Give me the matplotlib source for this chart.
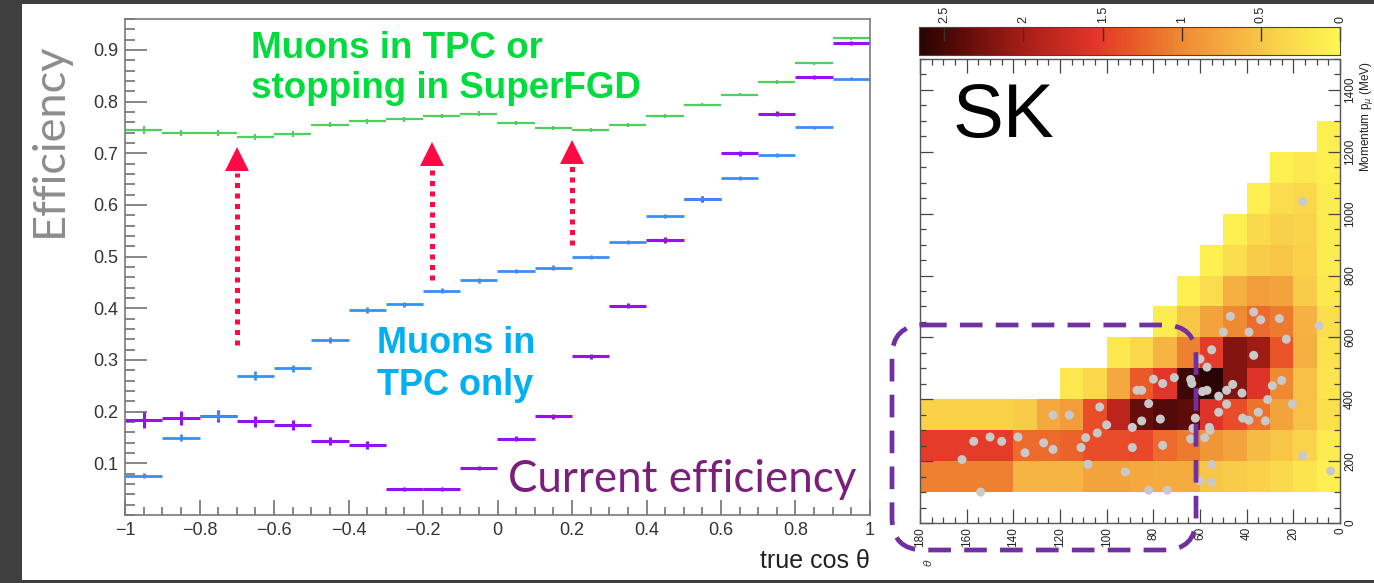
import numpy as np
import matplotlib
matplotlib.use("Agg")
import matplotlib.pyplot as plt
from matplotlib.colors import LinearSegmentedColormap
from matplotlib.patches import FancyBboxPatch, Rectangle
from matplotlib.ticker import MultipleLocator, FixedLocator, FuncFormatter

plt.rcParams['font.family'] = ['Liberation Sans', 'DejaVu Sans']

W, H = 1374, 583

# ---------------- efficiency vs true cos(theta), 20 bins ----------------
cos_edges = np.round(np.linspace(-1.0, 1.0, 21), 2)
eff_tpc_or_sfgd = [0.745, 0.740, 0.740, 0.732, 0.737, 0.755, 0.762, 0.766, 0.772, 0.777,
                   0.758, 0.749, 0.745, 0.754, 0.773, 0.794, 0.813, 0.838, 0.874, 0.923]
err_tpc_or_sfgd = [0.007, 0.006, 0.006, 0.006, 0.006, 0.005, 0.005, 0.005, 0.004, 0.004,
                   0.004, 0.004, 0.004, 0.004, 0.004, 0.003, 0.003, 0.003, 0.003, 0.003]
eff_tpc_only = [0.076, 0.150, 0.192, 0.270, 0.284, 0.339, 0.397, 0.408, 0.434, 0.454,
                0.473, 0.479, 0.499, 0.528, 0.578, 0.612, 0.652, 0.696, 0.750, 0.844]
err_tpc_only = [0.005, 0.007, 0.009, 0.008, 0.007, 0.006, 0.006, 0.005, 0.005, 0.004,
                0.004, 0.004, 0.004, 0.004, 0.004, 0.005, 0.004, 0.004, 0.003, 0.003]
eff_current = [0.184, 0.188, 0.192, 0.181, 0.174, 0.143, 0.136, 0.050, 0.051, 0.091,
               0.148, 0.191, 0.307, 0.405, 0.532, 0.612, 0.700, 0.777, 0.847, 0.914]
err_current = [0.016, 0.013, 0.012, 0.011, 0.010, 0.008, 0.008, 0.004, 0.004, 0.004,
               0.005, 0.005, 0.005, 0.005, 0.006, 0.006, 0.005, 0.005, 0.004, 0.004]

# gain arrows: x position, start and tip efficiency
arrow_x = [-0.70, -0.175, 0.20]
arrow_from = [0.330, 0.455, 0.523]
arrow_to = [0.714, 0.723, 0.727]

# ---------------- SK muon kinematics: theta (deg) x momentum (MeV) ----------------
theta_edges = np.arange(180, -1, -10)
p_edges = np.arange(0, 1501, 100)
nan = np.nan
sk_density = [
    [nan] * 18,
    [1.05, 1.05, 1.05, 1.05, 0.65, 0.65, 0.65, 0.80, 0.80, 0.75, 0.72, 0.72, 0.50, 0.45, 0.40, 0.33, 0.20, 0.08],
    [1.50, 1.50, 1.50, 1.50, 1.20, 1.20, 1.25, 1.40, 1.40, 1.42, 1.20, 1.10, 0.90, 0.80, 0.60, 0.50, 0.38, 0.12],
    [0.40, 0.40, 0.40, 0.40, 0.45, 0.75, 0.85, 1.40, 1.85, 2.35, 2.45, 2.40, 1.60, 1.40, 1.15, 0.80, 0.55, 0.25],
    [nan] * 6 + [0.15, 0.35, 0.75, 1.30, 1.55, 2.55, 2.66, 2.20, 1.60, 1.00, 0.55, 0.20],
    [nan] * 8 + [0.15, 0.35, 0.65, 1.05, 1.50, 2.20, 2.05, 1.35, 0.70, 0.22],
    [nan] * 10 + [0.12, 0.50, 0.80, 1.00, 1.20, 1.10, 0.68, 0.28],
    [nan] * 11 + [0.10, 0.30, 0.70, 0.85, 0.80, 0.45, 0.15],
    [nan] * 12 + [0.10, 0.30, 0.45, 0.50, 0.40, 0.12],
    [nan] * 13 + [0.08, 0.32, 0.42, 0.38, 0.12],
    [nan] * 14 + [0.08, 0.30, 0.35, 0.12],
    [nan] * 15 + [0.08, 0.15, 0.10],
    [nan] * 17 + [0.08],
    [nan] * 18,
    [nan] * 18,
]
density_max = 2.66

# observed events
event_theta = [47, 37, 34, 26, 9, 50, 39, 23, 55, 37, 60, 57, 80, 76, 71, 64, 63.5, 46, 25, 29,
               87, 85, 59, 57, 48.6, 42, 52, 31, 20.4, 82, 48.6, 103, 52, 35, 123, 116, 62, 77, 85, 41.7,
               39, 32, 100, 89, 63, 56, 55.7, 104, 109, 58, 64, 150, 138, 145, 157, 127, 111, 123, 89, 76,
               135, 162, 16, 108, 55, 92, 4, 60, 55, 154, 82, 74, 16]
event_p = [668, 682, 657, 661, 638, 617, 617, 594, 560, 542, 530, 504, 465, 451, 470, 464, 451, 448, 461, 444,
           429, 429, 425, 429, 429, 420, 410, 399, 384, 386, 384, 375, 358, 358, 349, 349, 339, 336, 330, 339,
           332, 330, 317, 309, 306, 309, 300, 291, 276, 276, 272, 278, 278, 264, 264, 259, 244, 238, 244, 251,
           227, 205, 217, 190, 189, 165, 168, 136, 132, 100, 106, 106, 1039]

# ---------------- colours ----------------
c_green, c_blue, c_purple = '#4fcf5e', '#3b8ff2', '#9512f0'
c_arrow = '#ff0a45'
sk_cmap = LinearSegmentedColormap.from_list('sk', [
    (0.0 / density_max, '#fff652'),
    (0.4 / density_max, '#f9d24a'),
    (0.7 / density_max, '#f5ae40'),
    (1.0 / density_max, '#ef8a32'),
    (1.3 / density_max, '#ea5a28'),
    (1.55 / density_max, '#e4352a'),
    (2.0 / density_max, '#a81e16'),
    (2.5 / density_max, '#4a0806'),
    (1.0, '#2a0404'),
])

fig = plt.figure(figsize=(W / 100, H / 100), dpi=100)
fig.patch.set_facecolor('#3f3f3f')
fig.add_artist(Rectangle((22 / W, 3 / H), 1.0, (580 - 4) / H, transform=fig.transFigure,
                         facecolor='white', edgecolor='none', zorder=-10))

# ---------------- left: efficiency ----------------
ax = fig.add_axes([125 / W, 1 - 515 / H, 745 / W, 496 / H])
centers = (cos_edges[:-1] + cos_edges[1:]) / 2
half = np.diff(cos_edges) / 2
for vals, errs, col, lw in [(eff_current, err_current, c_purple, 2.2),
                            (eff_tpc_only, err_tpc_only, c_blue, 2.0),
                            (eff_tpc_or_sfgd, err_tpc_or_sfgd, c_green, 1.6)]:
    ax.errorbar(centers, vals, xerr=half, yerr=errs, fmt='none', ecolor=col,
                elinewidth=lw, capsize=0)

head = 0.048
for x, y0, y1 in zip(arrow_x, arrow_from, arrow_to):
    ax.plot([x, x], [y0, y1 - head - 0.004], color=c_arrow, lw=3.6,
            ls=(0, (1, 1.1)), dash_capstyle='butt')
    ax.plot(x, y1 - head / 2, marker='^', ms=17.5, color=c_arrow, mew=0)

ax.set_xlim(-1, 1)
ax.set_ylim(0, 0.96)
ax.xaxis.set_major_locator(MultipleLocator(0.2))
ax.xaxis.set_minor_locator(MultipleLocator(0.05))
ax.yaxis.set_major_locator(FixedLocator(np.round(np.arange(0.1, 0.95, 0.1), 2)))
ax.yaxis.set_minor_locator(MultipleLocator(0.02))
ax.xaxis.set_major_formatter(FuncFormatter(lambda v, p: ('%g' % round(v, 2)).replace('-', '\u2212')))
ax.yaxis.set_major_formatter(FuncFormatter(lambda v, p: '%g' % round(v, 2)))
ax.tick_params(axis='both', which='both', direction='in', color='#666666', width=1.1,
               top=False, right=False, labelsize=13, labelcolor='#333333')
ax.tick_params(axis='y', which='major', length=16, pad=5)
ax.tick_params(axis='y', which='minor', length=7.5)
ax.tick_params(axis='x', which='major', length=11, pad=5)
ax.tick_params(axis='x', which='minor', length=6)
for s in ax.spines.values():
    s.set_color('#7a7a7a')
    s.set_linewidth(1.2)

# ---------------- right: SK heat map ----------------
hx = fig.add_axes([920 / W, 1 - 523 / H, 420 / W, 464 / H])
grid = np.ma.masked_invalid(np.array(sk_density, dtype=float))
hx.pcolormesh(theta_edges, p_edges, grid, cmap=sk_cmap, vmin=0, vmax=density_max)
hx.scatter(event_theta, event_p, s=42, color='#c9c9c9', edgecolors='none', zorder=3)
hx.set_xlim(180, 0)
hx.set_ylim(0, 1500)
hx.xaxis.set_major_locator(MultipleLocator(20))
hx.xaxis.set_minor_locator(MultipleLocator(5))
hx.yaxis.set_major_locator(MultipleLocator(200))
hx.yaxis.set_minor_locator(MultipleLocator(50))
hx.tick_params(axis='both', which='both', direction='in', top=True, right=True,
               color='#444444', width=0.9, labelsize=8.5, labelcolor='#222222')
hx.tick_params(axis='x', which='major', length=10, labelrotation=90, pad=3)
hx.tick_params(axis='x', which='minor', length=4.5)
hx.tick_params(axis='y', which='major', length=9, labelrotation=90, pad=3,
               labelleft=False, labelright=True)
hx.tick_params(axis='y', which='minor', length=4.5)
for lab in hx.get_yticklabels():
    lab.set_verticalalignment('center')
for s in hx.spines.values():
    s.set_color('#555555')
    s.set_linewidth(1.0)
hx.text(1.043, 0.995, r'Momentum p$_{\mu}$ (MeV)', transform=hx.transAxes, rotation=90,
        ha='left', va='top', fontsize=8.5, color='#222222')
hx.text(0.02, -0.085, r'$\theta$', transform=hx.transAxes, rotation=90,
        ha='center', va='center', fontsize=8, color='#444444')

# colour scale
cx = fig.add_axes([919 / W, 1 - 55 / H, 421 / W, 28 / H])
levels = np.linspace(0, density_max, 400)
cx.imshow(levels[None, :], extent=(0, density_max, 0, 1), aspect='auto',
          cmap=sk_cmap, vmin=0, vmax=density_max)
cx.set_xlim(density_max, 0)
cx.set_ylim(0, 1)
cx.set_yticks([])
cx.xaxis.set_major_locator(FixedLocator([0, 0.5, 1, 1.5, 2, 2.5]))
cx.xaxis.set_major_formatter(FuncFormatter(lambda v, p: '%g' % v))
cx.tick_params(axis='x', direction='in', top=True, bottom=False, labeltop=True,
               labelbottom=False, length=10, width=1.0, color='#333333',
               labelrotation=90, labelsize=9, pad=3, labelcolor='#222222')
for s in cx.spines.values():
    s.set_color('#444444')
    s.set_linewidth(0.8)

# ---------------- overlay: labels and highlight box (pixel coordinates) ----------------
ov = fig.add_axes([0, 0, 1, 1], zorder=5)
ov.set_xlim(0, W)
ov.set_ylim(H, 0)
ov.axis('off')
ov.patch.set_alpha(0)

bold = dict(fontweight='bold', ha='left', va='baseline')
ov.text(251, 58, 'Muons in TPC or', color='#00dc3c', fontsize=26.5, **bold)
ov.text(251, 98, 'stopping in SuperFGD', color='#00dc3c', fontsize=26.5, **bold)
ov.text(377, 353, 'Muons in', color='#00b0f0', fontsize=26, **bold)
ov.text(377, 395, 'TPC only', color='#00b0f0', fontsize=26, **bold)
ov.text(508, 492, 'Current efficiency', color='#7a1f7c', fontsize=31.6,
        family=['Lato', 'DejaVu Sans'], ha='left', va='baseline')
ov.text(62, 140, 'Efficiency', color='#8c8c8c', fontsize=32.5, rotation=90,
        rotation_mode='anchor', family=['Lato', 'DejaVu Sans'], fontweight='normal',
        ha='center', va='baseline')
ov.text(870, 568, 'true cos \u03b8', color='#222222', fontsize=18, ha='right', va='baseline')
ov.text(953, 137, 'SK', color='black', fontsize=55, ha='left', va='baseline')

box = FancyBboxPatch((892, 325), 304, 225, boxstyle='round,pad=0,rounding_size=32',
                     facecolor='none', edgecolor='#7030a0', linewidth=3.4,
                     linestyle=(0, (4.8, 2.8)))
ov.add_patch(box)

fig.savefig('out.png', dpi=100, facecolor=fig.get_facecolor())
